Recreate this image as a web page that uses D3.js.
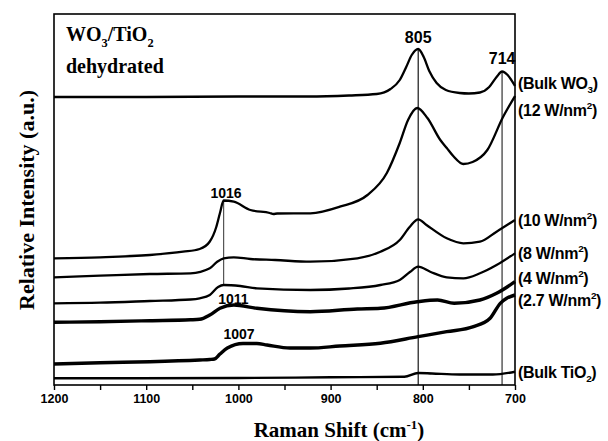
<!DOCTYPE html>
<html>
<head>
<meta charset="utf-8">
<script src="https://cdn.jsdelivr.net/npm/d3@7"></script>
<style>
  body { margin: 0; background: #fff; }
  svg text { fill: #000; }
</style>
</head>
<body>
<svg id="raman" width="608" height="441"></svg>
<script>
// spectra: [wavenumber (cm-1), relative intensity (a.u.)]
var bulkWO3 = [[1200,288],[1100,288],[1000,288.5],[925,288.5],[880,289.5],[850,291],[835,296],[825,305],
  [818,318],[812,330],[805,336],[799,328],[793,314],[785,302],[775,295],[760,292],[750,291.5],[738,292.5],
  [728,298],[720,308],[714,313.5],[708,310],[700,299]];
var w12 = [[1200,126.7],[1150,127.7],[1096,130],[1060,133.3],[1042,136],[1031,143.5],[1024,158],[1020,172],
  [1016,184.5],[1005,183.3],[987,175],[966,172],[962,171],[958,171.5],[922,171.7],[890,178.3],[860,190],
  [839,212],[825,242],[816,265],[806,277],[795,267],[781,245],[774,237],[767,229],[756,221],[746,223],
  [730,235],[713,268],[700,289]];
var w10 = [[1200,107.7],[1150,109.3],[1096,111],[1052,111.7],[1031,116.7],[1023,123.3],[1016,126.7],
  [1005,127.7],[987,126],[960,125],[922,123.3],[871,126.7],[846,133.3],[825,145],[814,158.3],[805,165.7],
  [796,160],[774,146.7],[756,141.7],[738,143.3],[720,153.3],[700,165]];
var w8 = [[1200,81.7],[1150,82.3],[1096,84],[1052,85.5],[1042,86.7],[1031,90],[1022,98],[1016,100],
  [998,99],[980,96.7],[922,95],[880,96.5],[846,100],[825,105],[814,113],[805,118.3],[792,113.3],
  [774,107.7],[756,106.7],[738,111.7],[720,120],[700,131.7]];
var w4 = [[1200,62.7],[1150,63.3],[1096,64.3],[1052,65.2],[1042,65.7],[1031,70],[1020,76.7],[1005,80],
  [980,76.7],[922,73.3],[871,76],[846,76.7],[806,83.3],[784,85],[766,81.7],[738,85],[720,91.7],[700,103.3]];
var w27 = [[1200,21],[1150,22.3],[1096,23.3],[1042,25],[1031,25.5],[1026,26],[1020,31],[1012,37],
  [995,41.5],[980,41.5],[969,40],[944,37],[922,37],[890,39],[846,41.7],[805,48.3],[774,53.3],[745,58.3],
  [727,66.7],[716,81.7],[709,86.7],[700,90]];
var bulkTiO2 = [[1200,6.7],[1000,7],[900,7.7],[820,8.3],[805,12],[790,11.5],[760,10.5],[724,10.5],[700,13.3]];

var xTicks = [1200, 1100, 1000, 900, 800, 700];
var xMinorTicks = [1150, 1050, 950, 850, 750];

// curve labels on the right, and the level (a.u.) they sit at
var seriesLabels = [
  [["(Bulk WO"], ["3", "sub"], [")"]],
  [["(12 W/nm"], ["2", "sup"], [")"]],
  [["(10 W/nm"], ["2", "sup"], [")"]],
  [["(8 W/nm"], ["2", "sup"], [")"]],
  [["(4 W/nm"], ["2", "sup"], [")"]],
  [["(2.7 W/nm"], ["2", "sup"], [")"]],
  [["(Bulk TiO"], ["2", "sub"], [")"]]
];
var labelLevels = [302, 275, 165, 132, 107, 85, 13];
var noisy = [false, false, false, false, true, true, true];

var peakText = ["805", "714", "1016", "1011", "1007"];
var peakWn = [805, 714, 1013.4, 1005.5, 999.3];
var peakLevel = [342.3, 320.7, 187, 81, 46];

var markerWn = [805, 714, 1016];
var markerTop = [336, 314, 184.5];
var markerBottom = [0, 0, 100];
var markerColor = ["#000", "#666", "#444"];

var svg = d3.select("#raman"),
    margin = {top: 14, left: 54, right: 93, bottom: 56},
    width = +svg.attr("width") - margin.left - margin.right,
    height = +svg.attr("height") - margin.top - margin.bottom,
    g = svg.append("g").attr("transform", "translate(" + margin.left + "," + margin.top + ")");

var x = d3.scaleLinear().domain([1200, 700]).range([0, width]);
var y = d3.scaleLinear().domain([0, 371]).range([height, 0]);

var line = d3.line()
    .x(function(d) { return x(d[0]); })
    .y(function(d) { return y(d[1]); })
    .curve(d3.curveMonotoneX);

var spectra = [bulkWO3, w12, w10, w8, w4, w27, bulkTiO2];

// vertical guides
markerWn.forEach(function(wn, i) {
  g.append("line")
      .attr("x1", x(wn)).attr("x2", x(wn))
      .attr("y1", y(markerTop[i])).attr("y2", y(markerBottom[i]))
      .attr("stroke", markerColor[i])
      .attr("stroke-width", i == 1 ? 1.6 : 1.1);
});

g.selectAll("path.spec")
    .data(spectra)
  .enter().append("path")
    .attr("class", "spec")
    .attr("d", line)
    .attr("fill", "none")
    .attr("stroke", "#000")
    .attr("stroke-linejoin", "round")
    .attr("stroke-width", function(d, i) { return i == 6 ? 2.4 : (noisy[i] ? 3.4 : 2.3); });

// axis + frame
var xAxis = d3.axisBottom(x).tickValues(xTicks).tickSize(5).tickPadding(4).tickFormat(d3.format("d"));
var gx = g.append("g").attr("transform", "translate(0," + height + ")").call(xAxis);
gx.selectAll("text").style("font", "bold 12.5px 'Liberation Sans', Arial, sans-serif");
gx.select(".domain").remove();
gx.selectAll(".tick line").attr("stroke-width", 1.4);
g.append("g").attr("transform", "translate(0," + height + ")")
    .call(d3.axisBottom(x).tickValues(xMinorTicks).tickSize(5).tickFormat(""))
    .call(function(s) { s.select(".domain").remove(); s.selectAll("line").attr("stroke-width", 1.4); });

g.append("rect")
    .attr("width", width).attr("height", height)
    .attr("fill", "none").attr("stroke", "#000").attr("stroke-width", 1.6);

// text with sub/superscripts, each piece its own tspan
function rich(sel, parts, size) {
  var shift = 0;
  parts.forEach(function(p) {
    var want = p[1] == "sub" ? size * 0.3 : (p[1] == "sup" ? -size * 0.4 : 0);
    var t = sel.append("tspan").attr("dy", want - shift).text(p[0]);
    if (p[1]) t.style("font-size", (size * 0.62) + "px");
    shift = want;
  });
}

// right hand labels
seriesLabels.forEach(function(parts, i) {
  var t = svg.append("text")
      .attr("x", margin.left + width + 3)
      .attr("y", margin.top + y(labelLevels[i]) + 5.5)
      .style("font", "bold 16px 'Liberation Sans', Arial, sans-serif")
      .style("letter-spacing", "-0.3px");
  rich(t, parts, 16);
});

// peak positions
peakText.forEach(function(s, i) {
  g.append("text")
      .attr("x", x(peakWn[i]))
      .attr("y", y(peakLevel[i]))
      .attr("text-anchor", "middle")
      .style("font", "bold " + (i < 2 ? 16 : 14) + "px 'Liberation Sans', Arial, sans-serif")
      .text(s);
});

// sample name
var t1 = svg.append("text").attr("x", 66).attr("y", 41)
    .style("font", "bold 20px 'Liberation Serif', 'Times New Roman', serif");
rich(t1, [["WO"], ["3", "sub"], ["/TiO"], ["2", "sub"]], 20);
svg.append("text").attr("x", 66).attr("y", 73)
    .style("font", "bold 20px 'Liberation Serif', 'Times New Roman', serif")
    .text("dehydrated");

// axis titles
var xt = svg.append("text")
    .attr("x", 339).attr("y", 437)
    .attr("text-anchor", "middle")
    .style("font", "bold 21px 'Liberation Serif', 'Times New Roman', serif");
rich(xt, [["Raman Shift (cm"], ["-1", "sup"], [")"]], 21);

svg.append("text")
    .attr("transform", "translate(34,200) rotate(-90)")
    .attr("text-anchor", "middle")
    .style("font", "bold 22px 'Liberation Serif', 'Times New Roman', serif")
    .text("Relative Intensity (a.u.)");
</script>
</body>
</html>
